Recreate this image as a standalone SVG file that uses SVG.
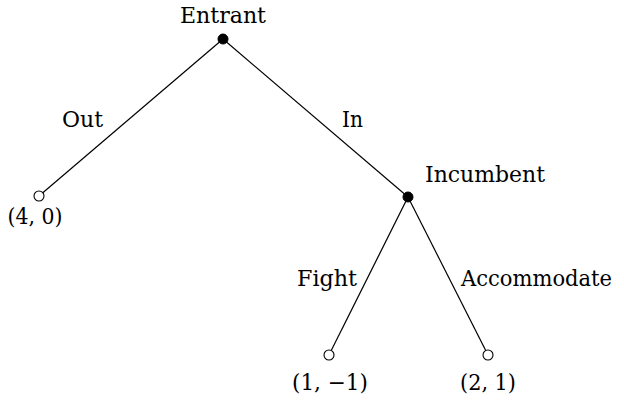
<svg xmlns="http://www.w3.org/2000/svg" width="624" height="407" viewBox="0 0 624 407">
<style>
  text { font-family: 'DejaVu Serif', 'Liberation Serif', serif; font-size: 22px; fill: #000; }
  .mid { text-anchor: middle; }
  .edge { stroke: #000; stroke-width: 1.2; fill: none; }
  .dec { fill: #000; stroke: #000; stroke-width: 1; }
  .leaf { fill: #fff; stroke: #000; stroke-width: 1.1; }
</style>
<rect width="624" height="407" fill="#fff"/>
<g id="connectors">
  <line class="edge" x1="223" y1="39" x2="39" y2="196"/>
  <line class="edge" x1="223" y1="39" x2="408" y2="197"/>
  <line class="edge" x1="408" y1="197" x2="329" y2="355"/>
  <line class="edge" x1="408" y1="197" x2="488" y2="355"/>
  <text x="62" y="127" textLength="41" lengthAdjust="spacingAndGlyphs">Out</text>
  <text x="342" y="127" textLength="21" lengthAdjust="spacingAndGlyphs">In</text>
  <text x="297" y="286" textLength="60" lengthAdjust="spacingAndGlyphs">Fight</text>
  <text x="461" y="286" textLength="151" lengthAdjust="spacingAndGlyphs">Accommodate</text>
</g>
<g id="entrant">
  <circle class="dec" cx="223" cy="39" r="5"/>
  <text class="mid" x="223" y="23" textLength="86" lengthAdjust="spacingAndGlyphs">Entrant</text>
</g>
<g id="incumbent">
  <circle class="dec" cx="408" cy="197" r="5"/>
  <text x="425" y="182" textLength="120" lengthAdjust="spacingAndGlyphs">Incumbent</text>
</g>
<g id="leaf-out">
  <circle class="leaf" cx="39" cy="196" r="5"/>
  <text class="mid" x="35" y="224" textLength="55" lengthAdjust="spacingAndGlyphs">(4, 0)</text>
</g>
<g id="leaf-fight">
  <circle class="leaf" cx="329" cy="355" r="5"/>
  <text class="mid" x="330" y="390" textLength="76" lengthAdjust="spacingAndGlyphs">(1, −1)</text>
</g>
<g id="leaf-accommodate">
  <circle class="leaf" cx="488" cy="355" r="5"/>
  <text class="mid" x="488" y="390" textLength="56" lengthAdjust="spacingAndGlyphs">(2, 1)</text>
</g>
</svg>
